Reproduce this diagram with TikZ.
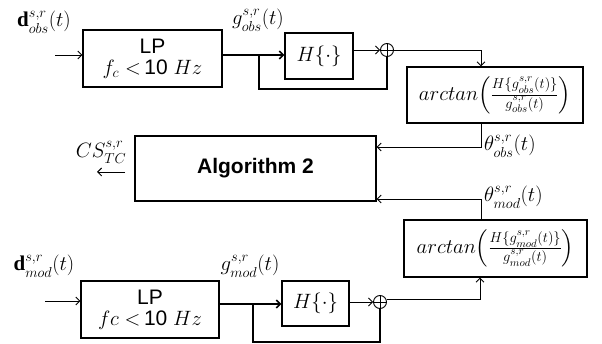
\documentclass[tikz,border=0pt]{standalone}
\usepackage{amsmath}
\usepackage{fontspec}
\setsansfont{Liberation Sans}
\setmainfont{Liberation Serif}
\usetikzlibrary{arrows.meta}
\newcommand{\dstrut}{\rule{0pt}{11pt}}
\begin{document}
\begin{tikzpicture}[x=1pt,y=-1pt,
  font=\fontsize{21}{25}\selectfont,
  box/.style={draw, line width=1.2pt, inner sep=0pt, align=center},
  atbox/.style={box, font=\fontsize{22}{26}\selectfont},
  lbl/.style={inner sep=0pt},
  conn/.style={line width=0.9pt},
  thick conn/.style={line width=1.6pt},
  arr/.style={-{Straight Barb[length=4pt,width=8pt]}},
  sumnode/.style={circle, draw, line width=0.9pt, minimum size=13pt, inner sep=0pt}
]
\useasboundingbox (0,0) rectangle (602,344);
% top branch
\node[box, minimum width=139pt, minimum height=57pt] (lp1) at (152.5,58.5)
  {\sffamily LP\\[-4pt] $f_c<$\,\sffamily 10 $Hz$};
\node[box, minimum width=68pt, minimum height=46pt] (h1) at (319,56) {$H\{\cdot\}$};
\node[sumnode] (s1) at (387,50) {};
\draw[conn] (s1.north) -- (s1.south) (s1.west) -- (s1.east);
\node[atbox, minimum width=176pt, minimum height=56pt] (at1) at (495,95)
  {$arctan\Bigl(\frac{H\{g^{s,r}_{obs}(t)\}}{\dstrut g^{s,r}_{obs}(t)}\Bigr)$};
\node[box, minimum width=241pt, minimum height=65pt] (alg) at (255.5,168.5)
  {\sffamily\bfseries Algorithm 2};
\node[atbox, minimum width=183pt, minimum height=57pt] (at2) at (495.5,248.5)
  {$arctan\Bigl(\frac{H\{g^{s,r}_{mod}(t)\}}{\dstrut g^{s,r}_{mod}(t)}\Bigr)$};
\node[box, minimum width=138pt, minimum height=57pt] (lp2) at (150,309.5)
  {\sffamily LP\\[-4pt] $fc<$\,\sffamily 10 $Hz$};
\node[box, minimum width=67pt, minimum height=45pt] (h2) at (315.5,303.5) {$H\{\cdot\}$};
\node[sumnode] (s2) at (380,302) {};
\draw[conn] (s2.north) -- (s2.south) (s2.west) -- (s2.east);

% labels
\node[lbl] (ldobs) at (44,22) {$\mathbf{d}^{s,r}_{obs}(t)$};
\node[lbl] (lgobs) at (258,20) {$g^{s,r}_{obs}(t)$};
\node[lbl] (ldmod) at (44,266) {$\mathbf{d}^{s,r}_{mod}(t)$};
\node[lbl] (lgmod) at (250,266) {$g^{s,r}_{mod}(t)$};
\node[lbl] (lcs) at (101,152) {$CS^{s,r}_{TC}$};
\node[lbl, anchor=west] (lthobs) at (484,146) {$\theta^{s,r}_{obs}(t)$};
\node[lbl, anchor=west] (lthmod) at (484,197) {$\theta^{s,r}_{mod}(t)$};

% coordinates
\coordinate (in1) at (55,55);
\coordinate (in2) at (45,301);
\coordinate (b1) at (259,55);
\coordinate (b2) at (253,304);
\coordinate (k1) at (481,50);
\coordinate (k2) at (480,299);
\coordinate (o1) at (481,123);
\coordinate (o2) at (481,220);
\coordinate (csa) at (125,172);
\coordinate (csb) at (97,172);

% connectors top
\draw[conn, arr] (in1) -- (in1 -| lp1.west);
\draw[thick conn, arr] (lp1.east |- b1) -- (b1 -| h1.west);
\draw[thick conn] (b1) |- (259,89) -| (s1.south);
\draw[conn, arr] (s1 -| h1.east) -- (s1.west);
\draw[conn, arr] (s1.east) -| (k1) -- (k1 |- at1.north);
\draw[conn, arr] (o1) |- (481,147) -- (alg.east |- 0,147);
% bottom
\draw[conn, arr] (in2) -- (in2 -| lp2.west);
\draw[thick conn, arr] (lp2.east |- b2) -- (b2 -| h2.west);
\draw[thick conn] (b2) |- (253,342) -| (s2.south);
\draw[conn, arr] (s2 -| h2.east) -- (s2.west);
\draw[conn, arr] (s2.east |- k2) -- (k2) -- (k2 |- at2.south);
\draw[conn, arr] (o2) |- (481,199) -- (alg.east |- 0,199);
\draw[conn, arr] (csa) -- (csb);
\end{tikzpicture}
\end{document}
